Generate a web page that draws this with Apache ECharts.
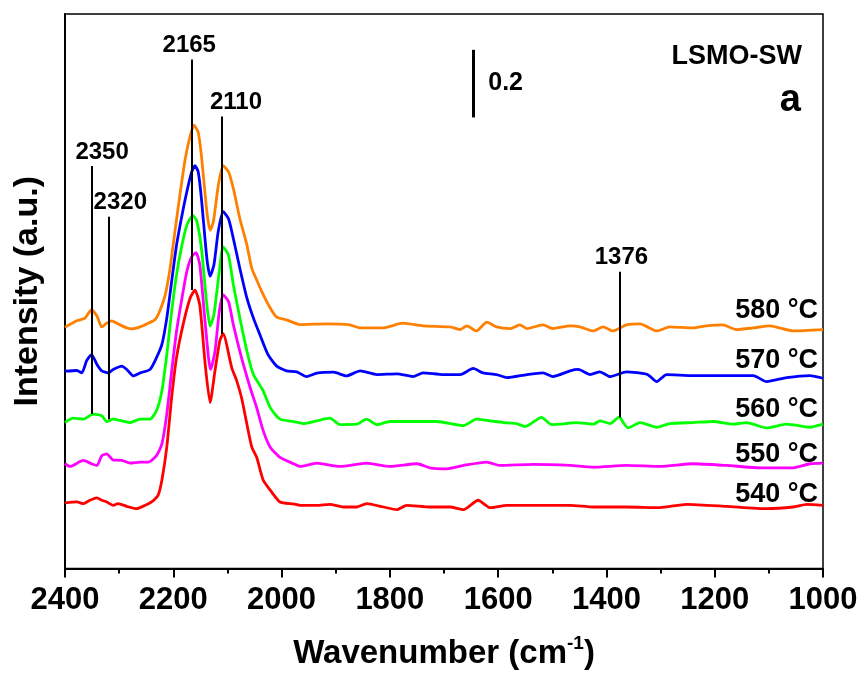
<!DOCTYPE html>
<html>
<head>
<meta charset="utf-8">
<title>LSMO-SW DRIFTS</title>
<script src="https://cdn.jsdelivr.net/npm/echarts@6/dist/echarts.min.js"></script>
<style>
  html, body { margin: 0; padding: 0; background: #fff; }
  #chart { width: 865px; height: 675px; }
</style>
</head>
<body>
<div id="chart"></div>
<script>
// Spectra: [wavenumber (cm-1), intensity with stacking offset]
const spec580 = [[2400,0.714],[2378,0.733],[2363,0.741],[2351,0.766],[2341,0.747],[2332,0.715],[2323,0.726],[2314,0.733],[2302,0.724],[2286,0.712],[2277,0.709],[2261,0.715],[2246,0.726],[2234,0.736],[2225,0.762],[2215,0.809],[2206,0.888],[2197,0.997],[2188,1.103],[2178,1.212],[2169,1.279],[2162,1.312],[2154,1.291],[2148,1.221],[2138,1.056],[2132,1.001],[2126,1.026],[2117,1.132],[2108,1.192],[2098,1.174],[2089,1.124],[2077,1.035],[2064,0.957],[2055,0.888],[2046,0.854],[2037,0.821],[2021,0.771],[2009,0.744],[1991,0.736],[1966,0.722],[1917,0.724],[1874,0.721],[1855,0.712],[1813,0.712],[1776,0.726],[1739,0.718],[1689,0.715],[1670,0.707],[1658,0.718],[1640,0.703],[1621,0.729],[1603,0.715],[1578,0.710],[1560,0.721],[1547,0.710],[1517,0.721],[1499,0.710],[1467,0.718],[1449,0.715],[1425,0.703],[1406,0.715],[1388,0.703],[1363,0.721],[1338,0.724],[1307,0.703],[1283,0.715],[1240,0.712],[1215,0.718],[1185,0.721],[1160,0.707],[1129,0.712],[1098,0.718],[1055,0.703],[1000,0.707]];

const spec570 = [[2400,0.584],[2378,0.586],[2369,0.579],[2360,0.615],[2351,0.633],[2341,0.604],[2332,0.585],[2320,0.579],[2311,0.589],[2295,0.599],[2286,0.589],[2274,0.570],[2261,0.579],[2243,0.589],[2231,0.624],[2221,0.663],[2212,0.741],[2203,0.850],[2194,0.957],[2184,1.045],[2175,1.115],[2166,1.174],[2160,1.192],[2154,1.174],[2148,1.094],[2138,0.918],[2132,0.865],[2125,0.898],[2117,0.997],[2108,1.056],[2098,1.035],[2089,0.976],[2077,0.888],[2064,0.800],[2052,0.741],[2040,0.692],[2025,0.633],[2009,0.599],[1991,0.585],[1972,0.582],[1954,0.568],[1935,0.578],[1904,0.581],[1880,0.570],[1855,0.585],[1824,0.574],[1787,0.576],[1757,0.568],[1739,0.579],[1702,0.574],[1670,0.574],[1646,0.592],[1628,0.579],[1603,0.574],[1584,0.565],[1547,0.574],[1517,0.579],[1499,0.568],[1467,0.585],[1452,0.589],[1430,0.574],[1412,0.582],[1393,0.568],[1363,0.582],[1324,0.574],[1307,0.553],[1289,0.574],[1240,0.571],[1178,0.571],[1129,0.571],[1104,0.553],[1067,0.565],[1024,0.571],[1000,0.563]];

const spec560 = [[2400,0.432],[2385,0.445],[2366,0.442],[2348,0.457],[2332,0.452],[2323,0.435],[2311,0.442],[2295,0.437],[2280,0.432],[2261,0.442],[2243,0.442],[2231,0.467],[2221,0.526],[2212,0.633],[2203,0.761],[2194,0.869],[2184,0.957],[2175,1.016],[2164,1.045],[2157,1.030],[2148,0.947],[2138,0.780],[2132,0.717],[2125,0.751],[2115,0.879],[2108,0.952],[2098,0.927],[2089,0.839],[2077,0.741],[2064,0.643],[2052,0.574],[2034,0.526],[2021,0.476],[2003,0.442],[1978,0.435],[1960,0.429],[1935,0.437],[1911,0.445],[1892,0.426],[1861,0.427],[1843,0.442],[1824,0.426],[1800,0.435],[1750,0.435],[1713,0.435],[1664,0.423],[1640,0.442],[1615,0.437],[1590,0.432],[1566,0.429],[1550,0.420],[1520,0.447],[1501,0.426],[1486,0.427],[1455,0.432],[1424,0.427],[1412,0.437],[1393,0.429],[1376,0.449],[1369,0.432],[1360,0.416],[1338,0.432],[1307,0.418],[1283,0.429],[1240,0.432],[1203,0.435],[1166,0.427],[1141,0.432],[1104,0.416],[1067,0.427],[1024,0.418],[1000,0.427]];

const spec550 = [[2400,0.310],[2391,0.302],[2366,0.320],[2351,0.310],[2341,0.305],[2332,0.334],[2323,0.339],[2311,0.321],[2295,0.320],[2280,0.312],[2261,0.315],[2246,0.315],[2231,0.334],[2221,0.369],[2212,0.457],[2203,0.584],[2194,0.702],[2184,0.800],[2175,0.879],[2166,0.923],[2158,0.935],[2151,0.898],[2143,0.761],[2135,0.624],[2131,0.589],[2123,0.643],[2115,0.761],[2108,0.810],[2098,0.790],[2089,0.721],[2074,0.624],[2058,0.535],[2046,0.476],[2034,0.408],[2021,0.359],[2003,0.329],[1978,0.310],[1966,0.302],[1935,0.312],[1892,0.302],[1843,0.312],[1800,0.302],[1750,0.310],[1726,0.298],[1695,0.295],[1664,0.305],[1621,0.315],[1597,0.305],[1535,0.308],[1467,0.305],[1424,0.300],[1363,0.305],[1301,0.302],[1240,0.310],[1178,0.305],[1116,0.298],[1055,0.298],[1024,0.310],[1000,0.312]];

const spec540 = [[2400,0.194],[2378,0.197],[2366,0.192],[2354,0.202],[2341,0.209],[2332,0.202],[2323,0.197],[2311,0.187],[2302,0.192],[2286,0.184],[2268,0.177],[2252,0.187],[2240,0.197],[2228,0.217],[2221,0.262],[2212,0.359],[2203,0.506],[2194,0.624],[2182,0.721],[2169,0.800],[2160,0.824],[2151,0.779],[2141,0.603],[2132,0.491],[2123,0.585],[2114,0.674],[2108,0.695],[2092,0.594],[2083,0.556],[2074,0.506],[2064,0.427],[2055,0.359],[2046,0.329],[2034,0.262],[2021,0.232],[2003,0.197],[1978,0.191],[1966,0.187],[1935,0.187],[1911,0.190],[1886,0.182],[1861,0.182],[1843,0.192],[1812,0.182],[1787,0.174],[1769,0.187],[1726,0.182],[1689,0.182],[1664,0.174],[1637,0.202],[1615,0.180],[1584,0.187],[1535,0.187],[1467,0.187],[1424,0.182],[1363,0.182],[1301,0.180],[1252,0.190],[1178,0.184],[1104,0.177],[1055,0.182],[1030,0.190],[1000,0.187]];

// Temperature labels and their heights at the right edge
const tempNames = ['580 °C', '570 °C', '560 °C', '550 °C', '540 °C'];
const tempLabelY = [0.762, 0.615, 0.471, 0.338, 0.218];
const tempColors = ['#FF8000', '#0000FF', '#00FF00', '#FF00FF', '#FF0000'];

// Marked bands: position, top and bottom of the guide line
const bandWn = [2350, 2320, 2165, 2110, 1376];
const bandTop = [1.191, 1.041, 1.506, 1.338, 0.878];
const bandBase = [0.457, 0.442, 0.824, 0.694, 0.447];
const bandLabelShift = [10, 12, -3, 14, 2];

// Scale bar
const scaleWn = 1646;
const scaleBase = 1.335;
const scaleLen = 0.2;

const xTicks = [2400, 2200, 2000, 1800, 1600, 1400, 1200, 1000];

const FONT = 'Liberation Sans, Arial, Helvetica, sans-serif';
const spectra = [spec580, spec570, spec560, spec550, spec540];

const chart = echarts.init(document.getElementById('chart'), null, { renderer: 'canvas' });

const lineSeries = spectra.map((d, i) => ({
  type: 'line',
  name: tempNames[i],
  data: d,
  showSymbol: false,
  smooth: 0.2,
  lineStyle: { color: tempColors[i], width: 2.8 },
  z: 3,
  markPoint: {
    symbol: 'circle',
    symbolSize: 0,
    silent: true,
    data: [{ coord: [1000, tempLabelY[i]] }],
    label: {
      show: true,
      position: 'left',
      distance: 5,
      formatter: tempNames[i],
      color: '#000',
      fontFamily: FONT,
      fontWeight: 'bold',
      fontSize: 27
    }
  }
}));

const bandLines = bandWn.map((w, i) => [
  {
    coord: [w, bandBase[i]],
    label: {
      show: true,
      position: 'end',
      distance: 2,
      formatter: String(w),
      offset: [bandLabelShift[i], 0],
      color: '#000',
      fontFamily: FONT,
      fontWeight: 'bold',
      fontSize: 24
    }
  },
  { coord: [w, bandTop[i]] }
]);

const annotSeries = {
  type: 'line',
  data: [],
  silent: true,
  z: 5,
  markLine: {
    symbol: ['none', 'none'],
    silent: true,
    animation: false,
    lineStyle: { color: '#000', width: 2, type: 'solid' },
    data: bandLines.concat([[
      { coord: [scaleWn, scaleBase], label: { show: false } },
      { coord: [scaleWn, scaleBase + scaleLen], lineStyle: { width: 3 } }
    ]])
  },
  markPoint: {
    symbol: 'circle',
    symbolSize: 0,
    silent: true,
    data: [{ coord: [scaleWn, scaleBase + scaleLen / 2] }],
    label: {
      show: true,
      position: 'right',
      distance: 15,
      formatter: String(scaleLen),
      color: '#000',
      fontFamily: FONT,
      fontWeight: 'bold',
      fontSize: 25
    }
  }
};

chart.setOption({
  animation: false,
  backgroundColor: '#fff',
  grid: {
    left: 65, right: 42, top: 14, bottom: 103,
    show: true, borderColor: '#000', borderWidth: 1.5, backgroundColor: 'transparent'
  },
  xAxis: {
    type: 'value',
    min: 1000, max: 2400, interval: 200,
    inverse: true,
    name: '{t|Wavenumber (cm}{s|-1}{t|)}',
    nameLocation: 'middle',
    nameGap: 66,
    nameTextStyle: {
      rich: {
        t: { fontFamily: FONT, fontWeight: 'bold', fontSize: 33, color: '#000', lineHeight: 38 },
        s: { fontFamily: FONT, fontWeight: 'bold', fontSize: 19, color: '#000', verticalAlign: 'top', lineHeight: 38, padding: [0, 0, 14, 0] }
      }
    },
    axisLine: { show: true, lineStyle: { color: '#000', width: 2 } },
    axisTick: { show: true, inside: false, length: 9, lineStyle: { color: '#000', width: 2 } },
    minorTick: { show: true, splitNumber: 2, length: 5, lineStyle: { color: '#000', width: 2 } },
    axisLabel: {
      margin: 16,
      color: '#000', fontFamily: FONT, fontWeight: 'bold', fontSize: 31,
      formatter: v => (xTicks.indexOf(v) >= 0 ? String(v) : '')
    },
    splitLine: { show: false }
  },
  yAxis: {
    type: 'value',
    min: 0, max: 1.641,
    name: 'Intensity (a.u.)',
    nameLocation: 'middle',
    nameGap: 20,
    nameTextStyle: { fontFamily: FONT, fontWeight: 'bold', fontSize: 34, color: '#000' },
    axisLine: { show: true, lineStyle: { color: '#000', width: 2 } },
    axisTick: { show: false },
    axisLabel: { show: false },
    splitLine: { show: false }
  },
  graphic: [
    {
      type: 'text', right: 63, top: 43,
      style: { text: 'LSMO-SW', fill: '#000', font: 'bold 27px ' + FONT }
    },
    {
      type: 'text', right: 64, top: 82,
      style: { text: 'a', fill: '#000', font: 'bold 38px ' + FONT }
    }
  ],
  series: lineSeries.concat([annotSeries])
});
</script>
</body>
</html>
